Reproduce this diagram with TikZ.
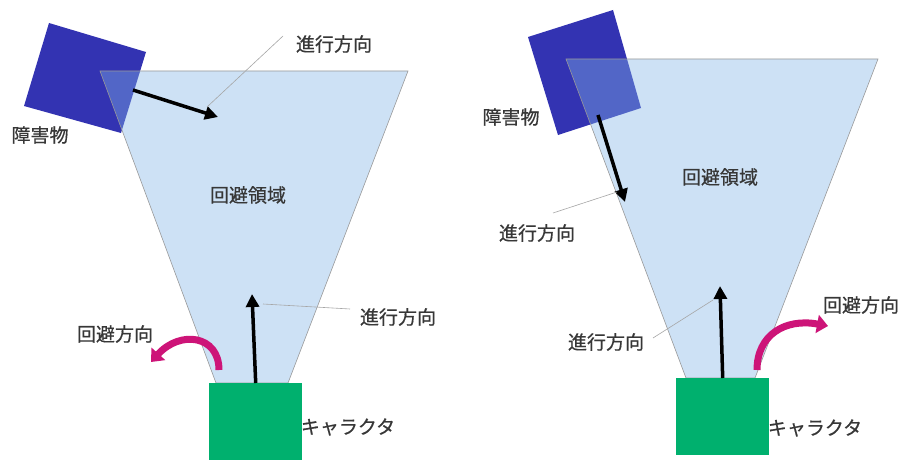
\documentclass[tikz,border=0pt]{standalone}
\usepackage{fontspec}
\setmainfont{Noto Sans CJK JP}[FakeBold=0.6]
\usetikzlibrary{arrows.meta}
\definecolor{obst}{RGB}{51,51,178}
\definecolor{areafill}{RGB}{130,180,232}
\definecolor{chara}{RGB}{0,176,110}
\definecolor{avoid}{RGB}{205,20,120}
\definecolor{txt}{RGB}{55,55,55}
\tikzset{
  lbl/.style={font=\fontsize{19}{19}\selectfont, text=txt, inner sep=0pt},
  area/.style={fill=areafill, fill opacity=0.4, draw=gray!80, line width=0.6pt},
  obstacle/.style={fill=obst},
  charbox/.style={fill=chara, draw=none, minimum width=93pt, minimum height=77pt, inner sep=0pt},
  movearrow/.style={line width=3.5pt, -{Triangle[length=13pt,width=13pt]}},
  leader/.style={draw=gray!70, line width=0.6pt},
  avoidarrow/.style={avoid, line width=7pt, -{Triangle[length=11pt,width=18pt]}}
}
\begin{document}
\begin{tikzpicture}[x=1pt,y=-1pt]
\useasboundingbox[fill=white] (0,0) rectangle (906,460);
% ---------- left panel ----------
\fill[obstacle] (49,23) -- (146,52) -- (121,133) -- (24,106) -- cycle;
\draw[area] (100,71) -- (408,71) -- (288,383) -- (216,383) -- cycle;
\node[charbox, anchor=north west] (cL) at (209,383) {};
\node[lbl] (obsL) at (40,135) {障害物};
\node[lbl] (areaL) at (248,195) {回避領域};
\node[lbl] (dirL1) at (334,44) {進行方向};
\node[lbl] (dirL2) at (398,317) {進行方向};
\node[lbl] (avL) at (115,334) {回避方向};
\node[lbl] (chL) at (348,427) {キャラクタ};
\coordinate (oaS) at (133,90);
\coordinate (oaE) at (218,117);
\draw[movearrow] (oaS) -- (oaE);
\coordinate (ldA) at (283,36);
\coordinate (ldB) at (207,107);
\draw[leader] (ldA) -- (ldB);
\coordinate (upTipL) at (252,294);
\draw[movearrow] (cL.north) -- (upTipL);
\coordinate (ldC) at (263,304);
\draw[leader] (ldC) -- (350,309);
\coordinate (avSL) at (219,370);
\coordinate (avEL) at (151,362);
\draw[avoidarrow] (avSL) .. controls (219,335) and (180,330) .. (avEL);
% ---------- right panel ----------
\fill[obstacle] (528,37) -- (613,10) -- (641,108) -- (558,135) -- cycle;
\draw[area] (566,59) -- (878,59) -- (755,378) -- (686,378) -- cycle;
\node[charbox, anchor=north west] (cR) at (676,378) {};
\node[lbl] (obsR) at (511,117) {障害物};
\node[lbl] (areaR) at (720,177) {回避領域};
\node[lbl] (dirR1) at (537,233) {進行方向};
\node[lbl] (dirR2) at (606,342) {進行方向};
\node[lbl] (avR) at (861,305) {回避方向};
\node[lbl] (chR) at (815,428) {キャラクタ};
\coordinate (obS) at (598,115);
\coordinate (obE) at (625,202);
\draw[movearrow] (obS) -- (obE);
\coordinate (ldD) at (553,213);
\coordinate (ldE) at (617,192);
\draw[leader] (ldD) -- (ldE);
\coordinate (upTipR) at (720,286);
\draw[movearrow] (cR.north) -- (upTipR);
\coordinate (ldF) at (653,338);
\coordinate (ldG) at (713,300);
\draw[leader] (ldF) -- (ldG);
\coordinate (avSR) at (757,370);
\coordinate (avER) at (828,326);
\draw[avoidarrow] (avSR) .. controls (757,335) and (785,318) .. (avER);
\end{tikzpicture}
\end{document}
